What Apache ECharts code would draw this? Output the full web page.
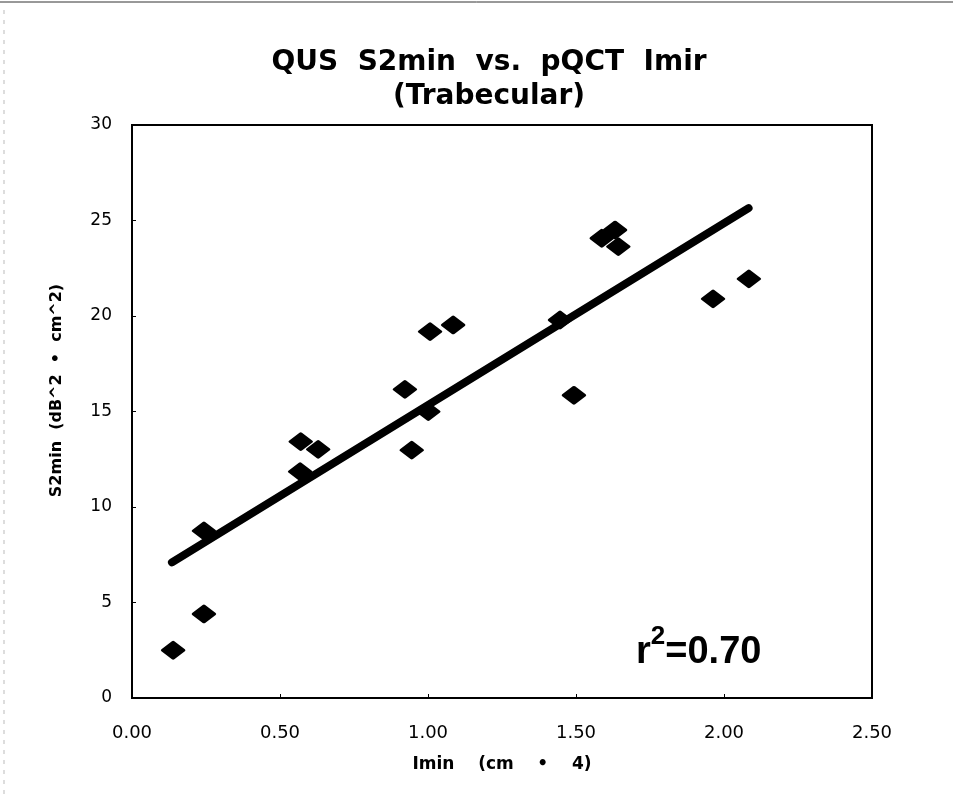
<!DOCTYPE html>
<html>
<head>
<meta charset="utf-8">
<script src="https://cdn.jsdelivr.net/npm/echarts@6/dist/echarts.min.js"></script>
<style>
html,body{margin:0;padding:0;background:#fff;}
#chart{width:953px;height:799px;}
</style>
</head>
<body>
<div id="chart"></div>
<script>
const imin = [0.139, 0.243, 0.243, 0.570, 0.568, 0.629, 0.922, 0.945, 1.001, 1.007, 1.085, 1.446, 1.493, 1.587, 1.632, 1.643, 1.963, 2.084];
const s2min = [2.5, 4.4, 8.75, 13.42, 11.85, 13.02, 16.16, 12.98, 14.99, 19.18, 19.53, 19.79, 15.85, 24.07, 24.5, 23.63, 20.9, 21.94];
const fitX = [0.135, 2.083];
const fitY = [7.1, 25.65];
const xTicks = ['0.00', '0.50', '1.00', '1.50', '2.00', '2.50'];
const yTicks = ['0', '5', '10', '15', '20', '25', '30'];

const chart = echarts.init(document.getElementById('chart'), null, {renderer: 'canvas'});
const points = imin.map((x, i) => [x, s2min[i]]);
const fitLine = fitX.map((x, i) => [x, fitY[i]]);

chart.setOption({
  backgroundColor: '#fff',
  animation: false,
  title: {
    text: 'QUS  S2min  vs.  pQCT  Imir\n(Trabecular)',
    left: 484, top: 41, textAlign: 'center',
    textStyle: {fontFamily: 'DejaVu Sans', fontWeight: 'bold', fontSize: 28, lineHeight: 34, color: '#000'}
  },
  grid: {left: 132, right: 81, top: 125, bottom: 101, show: true, borderColor: '#000', borderWidth: 2, backgroundColor: 'transparent'},
  xAxis: {
    type: 'value', min: 0, max: 2.5, interval: 0.5,
    name: 'Imin    (cm    •    4)', nameLocation: 'middle', nameGap: 58,
    nameTextStyle: {fontFamily: 'DejaVu Sans', fontWeight: 'bold', fontSize: 17, color: '#000'},
    axisLine: {lineStyle: {color: '#000', width: 2}},
    axisTick: {inside: true, length: 4, lineStyle: {color: '#000'}},
    splitLine: {show: false},
    axisLabel: {formatter: (v) => xTicks[Math.round(v / 0.5)], fontFamily: 'DejaVu Sans', fontSize: 18, color: '#000', margin: 26}
  },
  yAxis: {
    type: 'value', min: 0, max: 30, interval: 5,
    name: 'S2min  (dB^2  •  cm^2)', nameLocation: 'middle', nameGap: 67,
    nameTextStyle: {fontFamily: 'DejaVu Sans', fontWeight: 'bold', fontSize: 16, color: '#000', padding: [0, 0, 0, 42]},
    axisLine: {lineStyle: {color: '#000', width: 2}},
    axisTick: {inside: true, length: 4, lineStyle: {color: '#000'}},
    splitLine: {show: false},
    axisLabel: {formatter: (v) => yTicks[Math.round(v / 5)], fontFamily: 'DejaVu Sans', fontSize: 17, color: '#000', margin: 20}
  },
  series: [
    {
      type: 'line', data: fitLine, symbol: 'none', silent: true,
      lineStyle: {color: '#000', width: 8, cap: 'round'}, z: 2
    },
    {
      type: 'scatter', data: points, symbol: 'diamond', symbolSize: [21, 16],
      itemStyle: {color: '#000', opacity: 1, borderColor: '#000', borderWidth: 3, borderJoin: 'round'}, z: 3
    }
  ],
  graphic: [
    {type: 'line', shape: {x1: 0, y1: 2, x2: 953, y2: 2}, style: {stroke: '#333', lineWidth: 1}},
    {type: 'line', shape: {x1: 4, y1: 10, x2: 4, y2: 799}, style: {stroke: '#bbb', lineWidth: 1, lineDash: [4, 6]}},
    {
      type: 'text', left: 636, top: 624,
      style: {
        text: '{r|r}{s|2}{r|=0.70}',
        rich: {
          r: {fontFamily: 'Liberation Sans', fontWeight: 'bold', fontSize: 38, fill: '#000', verticalAlign: 'bottom', padding: [10, 0, 0, 0]},
          s: {fontFamily: 'Liberation Sans', fontWeight: 'bold', fontSize: 26, fill: '#000', verticalAlign: 'top'}
        }
      }
    }
  ]
});
</script>
</body>
</html>
